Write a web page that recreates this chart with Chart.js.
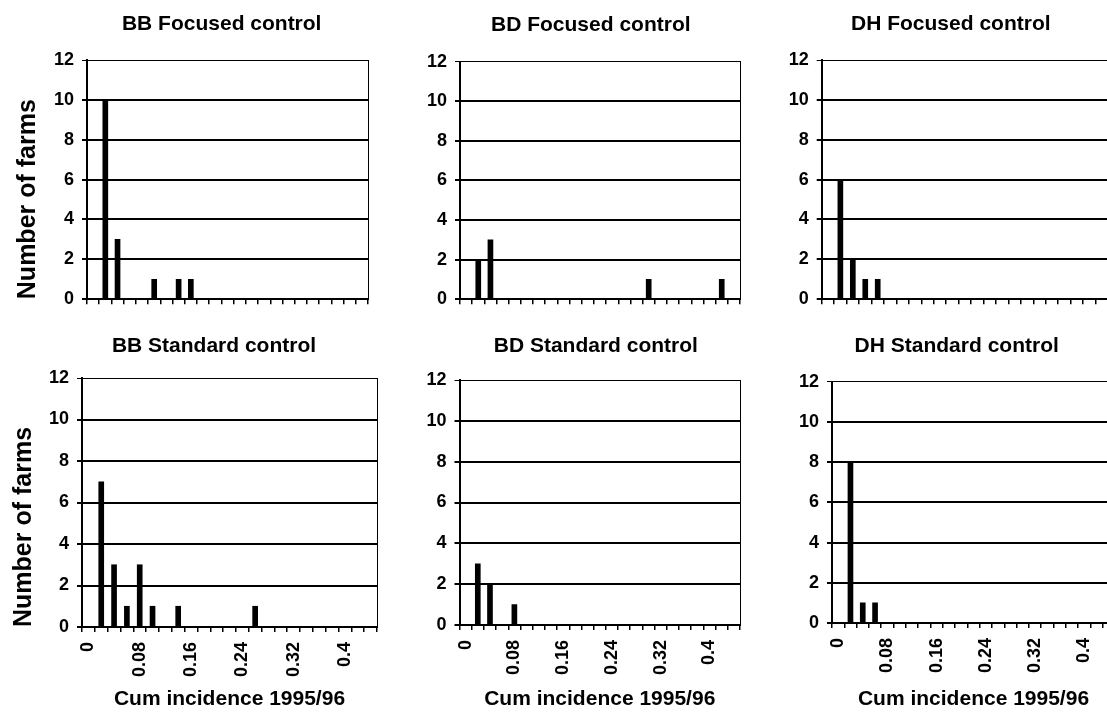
<!DOCTYPE html>
<html>
<head>
<meta charset="utf-8">
<script src="https://cdn.jsdelivr.net/npm/chart.js@4.4.1/dist/chart.umd.min.js"></script>
<style>
html,body{margin:0;padding:0;background:#fff;overflow:hidden;}
#wrap{position:relative;width:1107px;height:712px;overflow:hidden;background:#fff;}
</style>
</head>
<body>
<div id="wrap"></div>
<script>
// ---- data ----
const categories = ["0","0.02","0.04","0.06","0.08","0.1","0.12","0.14","0.16","0.18","0.2","0.22",
                    "0.24","0.26","0.28","0.3","0.32","0.34","0.36","0.38","0.4","0.42","0.44"];
const tickLabels = ["0","","","","0.08","","","","0.16","","","","0.24","","","","0.32","","","","0.4","",""];
const yTickValues = [0,2,4,6,8,10,12];

const bbFocused  = [0,10,3,0,0,1,0,1,1,0,0,0,0,0,0,0,0,0,0,0,0,0,0];
const bdFocused  = [0,2,3,0,0,0,0,0,0,0,0,0,0,0,0,1,0,0,0,0,0,1,0];
const dhFocused  = [0,6,2,1,1,0,0,0,0,0,0,0,0,0,0,0,0,0,0,0,0,0,0];
const bbStandard = [0,7,3,1,3,1,0,1,0,0,0,0,0,1,0,0,0,0,0,0,0,0,0];
const bdStandard = [0,3,2,0,1,0,0,0,0,0,0,0,0,0,0,0,0,0,0,0,0,0,0];
const dhStandard = [0,8,1,1,0,0,0,0,0,0,0,0,0,0,0,0,0,0,0,0,0,0,0];

const panelTitles = ["BB Focused control","BD Focused control","DH Focused control",
                     "BB Standard control","BD Standard control","DH Standard control"];
const yAxisTitle = "Number of farms";
const xAxisTitle = "Cum incidence 1995/96";

// ---- layout (page px) ----
const panels = [
  {title:panelTitles[0], data:bbFocused,  L:0,   T:0,   W:382, H:318, aL:87,    aR:368,  aT:60,    aB:303, tx:221.7, ty:24.7, yTitle:true,  yTitlePad:13, xLabels:false},
  {title:panelTitles[1], data:bdFocused,  L:400, T:0,   W:355, H:318, aL:460,   aR:740,  aT:61.7,  aB:303, tx:590.8, ty:25,   yTitle:false, yTitlePad:0,  xLabels:false},
  {title:panelTitles[2], data:dhFocused,  L:760, T:0,   W:362, H:318, aL:821.7, aR:1108, aT:60,    aB:305, tx:950.8, ty:24.3, yTitle:false, yTitlePad:0,  xLabels:false},
  {title:panelTitles[3], data:bbStandard, L:0,   T:330, W:391, H:382, aL:82,    aR:377,  aT:378,   aB:627, tx:214,   ty:346.7,yTitle:true,  yTitlePad:9,  xLabels:true},
  {title:panelTitles[4], data:bdStandard, L:400, T:330, W:355, H:382, aL:459.5, aR:740,  aT:380,   aB:625, tx:595.8, ty:346.7,yTitle:false, yTitlePad:0,  xLabels:true},
  {title:panelTitles[5], data:dhStandard, L:770, T:330, W:359, H:382, aL:832,   aR:1115, aT:381.7, aB:623, tx:956.7, ty:346.7,yTitle:false, yTitlePad:0,  xLabels:true}
];

Chart.defaults.font.family = "'Liberation Sans', Arial, sans-serif";
Chart.defaults.color = '#000';

const titleShift = {
  id: 'titleShift',
  afterLayout(chart, args, opts) {
    const b = chart.titleBlock;
    if (!b || opts.cx === undefined) return;
    const w = b.right - b.left;
    b.left = opts.cx - w / 2;
    b.right = opts.cx + w / 2;
  }
};

const wrap = document.getElementById('wrap');
const TITLE_SIZE = 21;

panels.forEach(p => {
  const cv = document.createElement('canvas');
  cv.width = p.W; cv.height = p.H;
  cv.style.cssText = 'position:absolute;left:' + p.L + 'px;top:' + p.T + 'px;width:' + p.W + 'px;height:' + p.H + 'px;';
  wrap.appendChild(cv);
  const lh = TITLE_SIZE * 1.2;
  const tPadTop = p.ty - p.T - lh / 2;
  const tPadBot = p.aT - p.ty - lh / 2;
  new Chart(cv, {
    type: 'bar',
    data: {
      labels: categories,
      datasets: [{ data: p.data, backgroundColor: '#000', borderWidth: 0, barThickness: 5 }]
    },
    options: {
      responsive: false,
      animation: false,
      devicePixelRatio: 1,
      layout: { padding: { left: 0, top: 0, bottom: 0, right: p.L + p.W - p.aR } },
      plugins: {
        legend: { display: false },
        tooltip: { enabled: false },
        title: {
          display: true, text: p.title, color: '#000',
          font: { size: TITLE_SIZE, weight: 'bold', lineHeight: 1.2 },
          padding: { top: tPadTop, bottom: tPadBot }
        },
        titleShift: { cx: p.tx - p.L }
      },
      scales: {
        x: {
          type: 'category',
          offset: true,
          grid: { display: true, drawOnChartArea: false, drawTicks: true, tickLength: 5, color: '#000', lineWidth: 1.5, offset: true },
          border: { display: true, color: '#000', width: 2 },
          ticks: {
            display: p.xLabels, autoSkip: false, minRotation: 90, maxRotation: 90, padding: 10,
            color: '#000', font: { size: 18, weight: 'bold' },
            callback: (v, i) => tickLabels[i]
          },
          title: {
            display: p.xLabels, text: xAxisTitle, color: '#000',
            font: { size: 21, weight: 'bold', lineHeight: 1.2 }, padding: { top: 0, bottom: 0 }
          },
          afterFit: s => { s.height = p.T + p.H - p.aB; s.paddingLeft = 0; s.paddingRight = 0; }
        },
        y: {
          min: yTickValues[0], max: yTickValues[yTickValues.length - 1],
          afterBuildTicks: s => { s.ticks = yTickValues.map(v => ({ value: v })); },
          ticks: { padding: 8, color: '#000', font: { size: 18, weight: 'bold' } },
          grid: {
            color: '#000', tickLength: 5, drawTicks: true,
            lineWidth: ctx => (ctx.tick && ctx.tick.value === 12) ? 1 : 2
          },
          border: { display: true, color: '#000', width: 2 },
          title: {
            display: p.yTitle, text: yAxisTitle, align: 'start', color: '#000',
            font: { size: 25, weight: 'bold', lineHeight: 1.2 }, padding: { top: p.yTitlePad, bottom: 0 }
          },
          afterFit: s => { s.width = p.aL - p.L; }
        },
        y2: {
          position: 'right', min: 0, max: 12,
          ticks: { display: false },
          grid: { display: false, drawOnChartArea: false, drawTicks: false },
          border: { display: true, color: '#000', width: 1 },
          afterFit: s => { s.width = 0; }
        }
      }
    },
    plugins: [titleShift]
  });
});
</script>
</body>
</html>
